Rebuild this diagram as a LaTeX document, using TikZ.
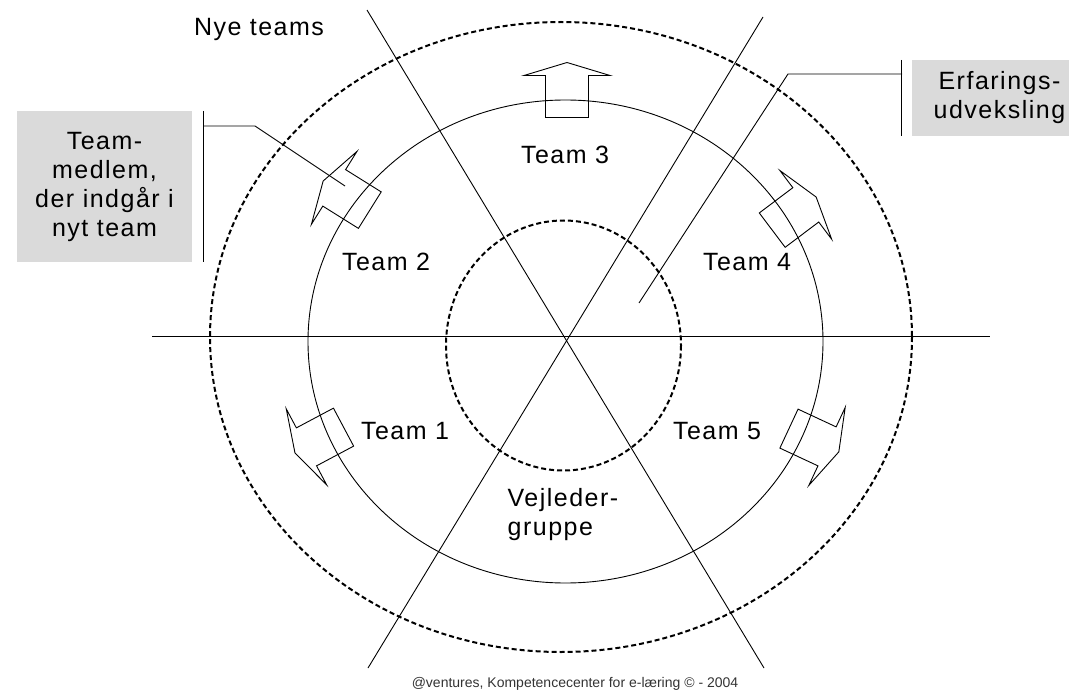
\documentclass[tikz,border=0pt]{standalone}
\usepackage{fontspec}
\setmainfont{Liberation Sans}[LetterSpace=6]
\newfontfamily\footfont{Liberation Sans}
\usetikzlibrary{positioning}

\definecolor{boxgray}{HTML}{DADADA}
\definecolor{footgray}{HTML}{333333}

\tikzset{
  thinline/.style={line width=0.9pt},
  dashring/.style={line width=2pt, dash pattern=on 5pt off 3pt},
  teamlabel/.style={font=\fontsize{25}{29}\selectfont, inner sep=0pt, align=center},
  graybox/.style={teamlabel, fill=boxgray, minimum width=175pt},
  pics/blockarrow/.style={code={
    \draw[thinline] (-21,-21.5) -- (21,-21.5) -- (21,-43) -- (34,0)
      -- (21,43) -- (21,21.5) -- (-21,21.5) -- cycle;
  }}
}

\begin{document}
\begin{tikzpicture}[x=1pt,y=-1pt]
	\useasboundingbox (0,0) rectangle (1069,690);
	% rings
	\draw[dashring] (561,337) ellipse [x radius=351, y radius=315];
	\draw[thinline] (565.5,341.5) ellipse [x radius=257.5, y radius=241.5];
	\draw[dashring] (563.5,345.5) ellipse [x radius=117.5, y radius=125];
	% spokes
	\coordinate (hleft) at (152,336);
	\coordinate (hright) at (990,336);
	\coordinate (atop) at (367,10);
	\coordinate (abot) at (764,668);
	\coordinate (btop) at (763,17);
	\coordinate (bbot) at (368,668);
	\draw[thinline] (hleft) -- (hright);
	\draw[thinline] (atop) -- (abot);
	\draw[thinline] (btop) -- (bbot);
	% arrows out of the teams
	\pic[rotate=90] at (567,96.5) {blockarrow};
	\pic[rotate=148] at (352,199) {blockarrow};
	\pic[rotate=37] at (789,217.5) {blockarrow};
	\pic[rotate=208] at (325,437) {blockarrow};
	\pic[rotate=-25] at (808,437.5) {blockarrow};
	% labels
	\node[teamlabel] (nye) at (259,29) {Nye teams};
	\node[teamlabel] (team3) at (565,155) {Team 3};
	\node[teamlabel] (team2) at (386,262) {Team 2};
	\node[teamlabel] (team4) at (747,262) {Team 4};
	\node[teamlabel] (team1) at (405,431) {Team 1};
	\node[teamlabel] (team5) at (717,431) {Team 5};
	\node[teamlabel, align=left] (vejl) at (563,515) {Vejleder-\\gruppe};
	% boxes
	\node[graybox, minimum height=151pt] (medlem) at (104.5,186.5)
		{Team-\\medlem,\\der indgår i\\nyt team};
	\node[graybox, minimum height=76pt] (erfar) at (999.5,98)
		{Erfarings-\\udveksling};
	% pointer lines
	\coordinate (lbartop) at ([xshift=11pt]medlem.north east);
	\coordinate (lbarbot) at ([xshift=11pt]medlem.south east);
	\coordinate (lstart) at (203,126);
	\coordinate (lknee) at (255,126);
	\coordinate (lend) at (345,186);
	\draw[thinline] (lbartop) -- (lbarbot);
	\draw[thinline] (lstart) -- (lknee) -- (lend);
	\coordinate (rbartop) at ([xshift=-10pt]erfar.north west);
	\coordinate (rbarbot) at ([xshift=-10pt]erfar.south west);
	\coordinate (rstart) at (902,74);
	\coordinate (rknee) at (788,74);
	\coordinate (rend) at (639,303);
	\draw[thinline] (rbartop) -- (rbarbot);
	\draw[thinline] (rstart) -- (rknee) -- (rend);
	% footer
	\node[font=\footfont\fontsize{14}{16}\selectfont, text=footgray, inner sep=0pt]
		(foot) at (575,684) {@ventures, Kompetencecenter for e-læring © - 2004};
\end{tikzpicture}
\end{document}
